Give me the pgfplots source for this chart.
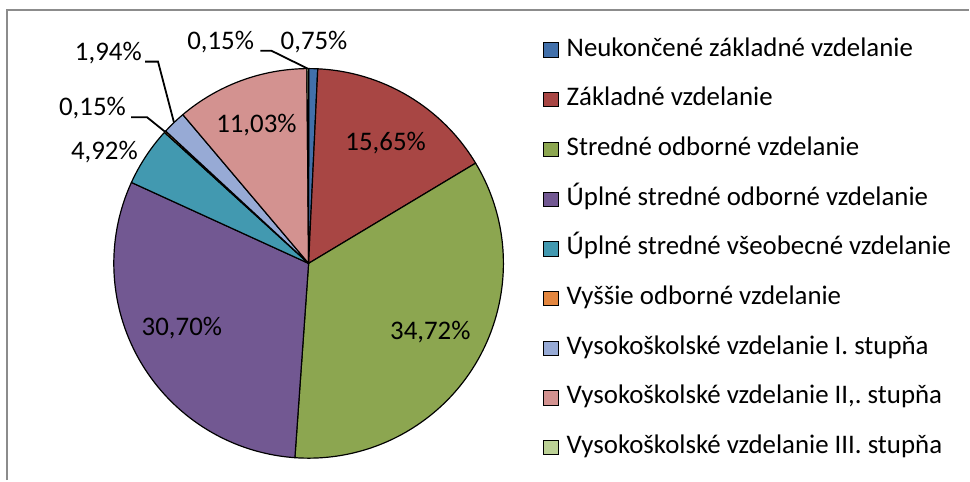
\documentclass[border=0pt]{standalone}
\usepackage{pgfplots}
\pgfplotsset{compat=1.18}
\usepackage{pgfplotstable}
\usepackage{fontspec}
\setmainfont{Carlito}
\definecolor{c0}{HTML}{4270AA}
\definecolor{c1}{HTML}{A84644}
\definecolor{c2}{HTML}{8CA650}
\definecolor{c3}{HTML}{725892}
\definecolor{c4}{HTML}{4299B0}
\definecolor{c5}{HTML}{E3863F}
\definecolor{c6}{HTML}{97AAD5}
\definecolor{c7}{HTML}{D39290}
\definecolor{c8}{HTML}{BCD196}
\definecolor{framegray}{HTML}{8C8C8C}
\pgfplotstableread{
idx value
0 0.75
1 15.65
2 34.72
3 30.70
4 4.92
5 0.15
6 1.94
7 11.03
8 0.15
}\piedata
\def\cumsum{0}
\foreach \i in {0,...,8}{%
  \pgfplotstablegetelem{\i}{value}\of\piedata
  \pgfmathsetmacro\a{90-3.6*\cumsum}%
  \pgfmathsetmacro\newcum{\cumsum+\pgfplotsretval}%
  \pgfmathsetmacro\b{90-3.6*\newcum}%
  \expandafter\xdef\csname sa\i\endcsname{\a}%
  \expandafter\xdef\csname ea\i\endcsname{\b}%
  \xdef\cumsum{\newcum}%
}
\pgfplotsset{legimg/.style={legend image code/.code={\draw[##1, draw=black, line width=0.5pt] (0pt,-3.6pt) rectangle (7.4pt,3.6pt);}}}
\newcommand\lf{\fontsize{13.5}{16}\selectfont}
\begin{document}
\frenchspacing
\begin{tikzpicture}
\begin{axis}[
  width=485pt, height=241.5pt, scale only axis,
  xmin=0, xmax=970, ymin=0, ymax=483,
  hide axis, clip=false,
  legend style={at={(axis cs:546,445)}, anchor=north west, draw=none, fill=none,
    inner sep=0pt, font=\lf, row sep=13pt,
    nodes={inner sep=0pt, text height=9pt, text depth=3pt},
    /tikz/every odd column/.append style={column sep=4pt}},
  legend cell align=left,
]
\path (axis cs:0,0) rectangle (axis cs:970,483);
\draw[framegray, line width=1pt] (axis cs:7,0) -- (axis cs:7,473) -- (axis cs:975,473);
\pgfplotsinvokeforeach{0,...,8}{
  \filldraw[fill=c#1, draw=black, line width=0.6pt, line join=round]
    (axis cs:310.5,218) -- ++(\csname sa#1\endcsname:98pt)
    arc[start angle=\csname sa#1\endcsname, end angle=\csname ea#1\endcsname, radius=98pt] -- cycle;
}
\addlegendimage{legimg, fill=c0}
\addlegendentry{Neukončené základné vzdelanie}
\addlegendimage{legimg, fill=c1}
\addlegendentry{Základné vzdelanie}
\addlegendimage{legimg, fill=c2}
\addlegendentry{Stredné odborné vzdelanie}
\addlegendimage{legimg, fill=c3}
\addlegendentry{Úplné stredné odborné vzdelanie}
\addlegendimage{legimg, fill=c4}
\addlegendentry{Úplné stredné všeobecné vzdelanie}
\addlegendimage{legimg, fill=c5}
\addlegendentry{Vyššie odborné vzdelanie}
\addlegendimage{legimg, fill=c6}
\addlegendentry{Vysokoškolské vzdelanie I.\ stupňa}
\addlegendimage{legimg, fill=c7}
\addlegendentry{Vysokoškolské vzdelanie II,.\ stupňa}
\addlegendimage{legimg, fill=c8}
\addlegendentry{Vysokoškolské vzdelanie III.\ stupňa}
% leader lines
\draw[black, line width=0.9pt] (axis cs:262,432) -- (axis cs:273,432) -- (axis cs:309.5,414);
\draw[black, line width=0.9pt] (axis cs:146,421) -- (axis cs:159,421) -- (axis cs:175,360);
\draw[black, line width=0.9pt] (axis cs:132,365) -- (axis cs:148,365) -- (axis cs:166,350.5);
% labels
\node[font=\lf, anchor=base, inner sep=0pt] at (axis cs:316,433) {0,75\%};
\node[font=\lf, anchor=base, inner sep=0pt] at (axis cs:222,433) {0,15\%};
\node[font=\lf, anchor=base, inner sep=0pt] at (axis cs:109,422) {1,94\%};
\node[font=\lf, anchor=base, inner sep=0pt] at (axis cs:93,367) {0,15\%};
\node[font=\lf, anchor=base, inner sep=0pt] at (axis cs:105,323) {4,92\%};
\node[font=\lf, anchor=base, inner sep=0pt] at (axis cs:258,350) {11,03\%};
\node[font=\lf, anchor=base, inner sep=0pt] at (axis cs:388,332) {15,65\%};
\node[font=\lf, anchor=base, inner sep=0pt] at (axis cs:433,141) {34,72\%};
\node[font=\lf, anchor=base, inner sep=0pt] at (axis cs:183,145) {30,70\%};
\end{axis}
\end{tikzpicture}
\end{document}
